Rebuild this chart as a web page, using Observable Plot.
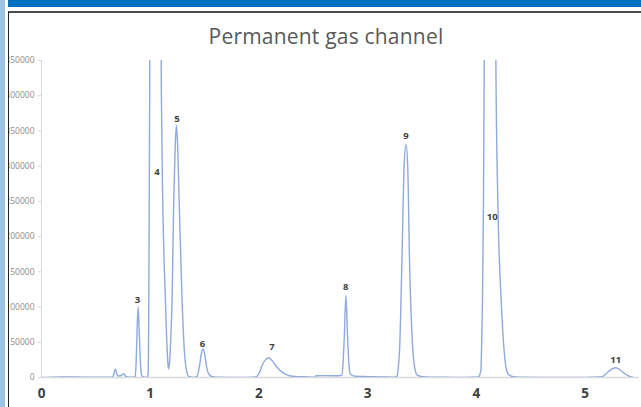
<!DOCTYPE html>
<html>
<head>
<meta charset="utf-8">
<script src="https://cdn.jsdelivr.net/npm/d3@7"></script>
<script src="https://cdn.jsdelivr.net/npm/@observablehq/plot@0.6"></script>
<style>
  html, body { margin: 0; padding: 0; background: #fff; }
  body { width: 641px; height: 407px; overflow: hidden; position: relative; font-family: "Open Sans", sans-serif; }
  #stripe { position: absolute; left: 0; top: 0; width: 5px; height: 407px; background: #9dc3e6; }
  #bar { position: absolute; left: 8px; top: 0; width: 633px; height: 7px; background: #0070c0; }
  #frame { position: absolute; left: 8px; top: 11px; width: 633px; height: 396px; box-sizing: border-box;
           border-left: 1px solid #222; border-top: 2px solid #4a4a4a; overflow: hidden; }
  #page { position: absolute; left: -9px; top: -13px; width: 641px; height: 407px; }
  #title { position: absolute; left: 0; top: 22px; width: 652px; text-align: center; font-size: 21px;
           color: #595959; font-family: "Open Sans", sans-serif; line-height: 28px; letter-spacing: 0.2px; }
  #chart { position: absolute; left: 0; top: 0; }
</style>
</head>
<body>
<div id="stripe"></div>
<div id="bar"></div>
<div id="frame"><div id="page"><div id="title">Permanent gas channel</div><div id="chart"></div></div></div>
<script>
// Retention time (min) and detector signal
const time = [
  0.00, 0.10, 0.20, 0.40, 0.60, 0.655, 0.668, 0.680, 0.692, 0.705, 0.717, 0.735, 0.757, 0.775, 0.80, 0.85,
  0.860, 0.870, 0.878, 0.889, 0.900, 0.910, 0.920, 0.935, 0.960, 0.972,
  0.980, 0.986, 0.991, 0.996, 1.005, 1.050, 1.095, 1.103, 1.115, 1.140, 1.156, 1.165, 1.170,
  1.178, 1.190, 1.201, 1.216, 1.230, 1.241, 1.252, 1.266, 1.293, 1.314, 1.335, 1.354, 1.400,
  1.430, 1.455, 1.470, 1.486, 1.502, 1.520, 1.545, 1.580, 1.620, 1.800, 1.950,
  1.980, 2.005, 2.028, 2.060, 2.090, 2.120, 2.166, 2.227, 2.280, 2.350, 2.450, 2.500, 2.510, 2.525, 2.600, 2.700, 2.750,
  2.764, 2.775, 2.785, 2.800, 2.815, 2.827, 2.840, 2.886, 3.000, 3.150, 3.250,
  3.270, 3.285, 3.293, 3.315, 3.335, 3.352, 3.368, 3.385, 3.416, 3.435, 3.459, 3.530, 3.700, 3.900, 4.000,
  4.020, 4.041, 4.050, 4.056, 4.065, 4.072, 4.090, 4.130, 4.170, 4.179, 4.197, 4.228, 4.255, 4.275, 4.295, 4.330, 4.387, 4.600, 5.000, 5.153,
  5.190, 5.240, 5.282, 5.320, 5.370, 5.410, 5.444
];
const signal = [
  0, 600, 800, 600, 500, 600, 7000, 12300, 5000, 2200, 2400, 2800, 5500, 1500, 300, 500,
  1500, 20000, 60000, 100000, 60000, 20000, 4000, 800, 200, 600,
  5000, 80000, 250000, 450000, 800000, 1000000, 600000, 393000, 251000, 109000, 38000, 16000, 12300,
  22000, 60000, 109000, 251000, 330000, 357700, 330000, 251000, 109000, 38000, 9000, 1500, 0,
  1500, 18000, 34000, 40700, 32000, 14000, 3500, 800, 300, 200, 300,
  1500, 7000, 17000, 25000, 28000, 24000, 14600, 6100, 2500, 1200, 800, 300, 0, 2400, 2600, 2500, 2800,
  3500, 25000, 58000, 116400, 58000, 20000, 5000, 1800, 1200, 700, 600,
  2000, 20000, 38000, 165000, 300000, 330800, 300000, 165000, 38000, 12000, 3000, 800, 300, 200, 300,
  1000, 10000, 60000, 109000, 251000, 450000, 800000, 1000000, 700000, 450000, 251000, 109000, 38000, 12000, 4300, 1500, 500, 200, 200, 800,
  5000, 11500, 13800, 11000, 5000, 1500, 0
];
// Peak numbers and where their labels sit (time, signal)
const peakLabels = ["3", "4", "5", "6", "7", "8", "9", "10", "11"];
const peakLabelTime = [0.882, 1.063, 1.247, 1.480, 2.120, 2.797, 3.352, 4.145, 5.282];
const peakLabelSignal = [110700, 292400, 367300, 47800, 43000, 128200, 343500, 227600, 25100];
// Axis ticks
const xTicks = [0, 1, 2, 3, 4, 5];
const yTicks = [0, 50000, 100000, 150000, 200000, 250000, 300000, 350000, 400000, 450000];

const trace = time.map((t, i) => ({t, v: signal[i]}));
const labels = peakLabels.map((text, i) => ({text, t: peakLabelTime[i], v: peakLabelSignal[i]}));

const chart = Plot.plot({
  width: 641,
  height: 407,
  marginLeft: 41,
  marginRight: 2,
  marginTop: 60,
  marginBottom: 30,
  style: {fontFamily: "Open Sans, sans-serif", background: "transparent", overflow: "visible"},
  x: {domain: [0, 5.5]},
  y: {domain: [0, 450000]},
  marks: [
    Plot.ruleX([0], {y1: 0, y2: 450000, stroke: "#d9d9d9", strokeWidth: 1}),
    Plot.ruleY([0], {stroke: "#d9d9d9", strokeWidth: 1.5}),
    Plot.axisY({ticks: yTicks, tickFormat: d3.format("d"), tickSize: 3, tickPadding: 4, fontSize: 8.5,
                stroke: "#d9d9d9", fill: "#8c8c8c", label: null}),
    Plot.axisX({ticks: xTicks, tickFormat: d => String(d), tickSize: 0, tickPadding: 11, fontSize: 13.5,
                fontWeight: 700, fill: "#404040", label: null}),
    Plot.line(trace, {x: "t", y: "v", curve: "monotone-x", stroke: "#8faadc", strokeWidth: 1.4, clip: true}),
    Plot.text(labels, {x: "t", y: "v", text: "text", fontSize: 9.5, fontWeight: 700, fill: "#404040"})
  ]
});
document.getElementById("chart").appendChild(chart);
</script>
</body>
</html>
